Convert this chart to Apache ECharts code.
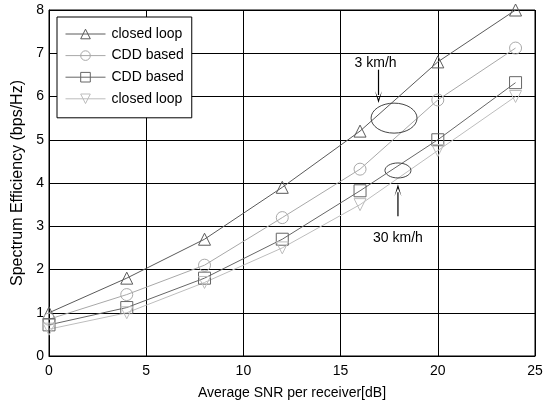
<!DOCTYPE html>
<html><head><meta charset="utf-8">
<script src="https://cdn.jsdelivr.net/npm/echarts@6/dist/echarts.min.js"></script>
<style>html,body{margin:0;padding:0;background:#fff}#c{width:553px;height:405px}</style>
</head><body><div id="c"></div>
<script>
const snr = [0, 4, 8, 12, 16, 20, 24];
const closedLoop3 = [1.0, 1.8, 2.7, 3.9, 5.2, 6.8, 8.0];
const cdd3 = [0.85, 1.42, 2.1, 3.2, 4.32, 5.92, 7.12];
const cdd30 = [0.72, 1.12, 1.8, 2.7, 3.82, 5.0, 6.32];
const closedLoop30 = [0.62, 1.0, 1.7, 2.5, 3.5, 4.75, 6.0];
const xTicks = [0, 5, 10, 15, 20, 25];
const yTicks = [0, 1, 2, 3, 4, 5, 6, 7, 8];

const font = 'Liberation Sans, Arial, sans-serif';
function pairs(ys){ return snr.map((x,i)=>[x, ys[i]]); }
function ser(name, ys, color, symbol, rot){
  return {
    name, type:'line', data: pairs(ys), symbol, symbolSize: 12, symbolRotate: rot||0,
    lineStyle:{color, width:1}, itemStyle:{color:'transparent', borderColor:color, borderWidth:1},
    emphasis:{disabled:true}, z: 3
  };
}
const chart = echarts.init(document.getElementById('c'), null, {renderer:'canvas'});
const option = {
  animation:false,
  grid:{left:49, right:18, top:10, bottom:48, show:true, borderColor:'#000', borderWidth:1},
  xAxis:{type:'value', min:0, max:25, interval:5,
    axisLine:{show:true, onZero:false, lineStyle:{color:'#000'}},
    axisTick:{show:true, inside:true, length:3, lineStyle:{color:'#000'}},
    axisLabel:{color:'#000', fontSize:14, fontFamily:font, margin:8,
      formatter:(v)=> xTicks.includes(v) ? String(v) : ''},
    splitLine:{show:true, lineStyle:{color:'#000', width:1}},
    name:'Average SNR per receiver[dB]', nameLocation:'middle', nameGap:30,
    nameTextStyle:{color:'#000', fontSize:14, fontFamily:font}
  },
  yAxis:{type:'value', min:0, max:8, interval:1,
    axisLine:{show:true, onZero:false, lineStyle:{color:'#000'}},
    axisTick:{show:true, inside:true, length:3, lineStyle:{color:'#000'}},
    axisLabel:{color:'#000', fontSize:14, fontFamily:font, margin:5,
      formatter:(v)=> yTicks.includes(v) ? String(v) : ''},
    splitLine:{show:true, lineStyle:{color:'#000', width:1}},
    name:'Spectrum Efficiency (bps/Hz)', nameLocation:'middle', nameGap:17.5,
    nameTextStyle:{color:'#000', fontSize:16, fontFamily:font}
  },
  legend:{orient:'vertical', left:57, top:17,
    backgroundColor:'#fff', borderColor:'#000', borderWidth:1,
    padding:[10,4,12,8], itemGap:7.6, itemWidth:40, itemHeight:12,
    lineStyle:{width:1}, itemStyle:{borderWidth:1},
    textStyle:{color:'#000', fontSize:14, fontFamily:font, padding:[0,0,0,1]},
    data:['closed loop','CDD based','CDD based ','closed loop ']
  },
  series:[
    ser('closed loop', closedLoop3, '#5a5a5a', 'triangle'),
    ser('CDD based', cdd3, '#a8a8a8', 'circle'),
    ser('CDD based ', cdd30, '#666666', 'rect'),
    ser('closed loop ', closedLoop30, '#bdbdbd', 'triangle', 180)
  ]
};
chart.setOption(option);

function px(x,y){ return chart.convertToPixel({gridIndex:0}, [x,y]); }
const e1 = px(17.75, 5.5), e2 = px(17.95, 4.29);
const t1 = px(16.8, 6.78), a1s = px(16.95, 6.62), a1e = px(16.95, 5.85);
const t2 = px(17.95, 2.72), a2s = px(17.95, 3.23), a2e = px(17.95, 3.97);
function arrow(s, e){
  const dy = e[1] > s[1] ? 1 : -1;
  return [
    {type:'line', shape:{x1:s[0], y1:s[1], x2:e[0], y2:e[1]-dy*8}, style:{stroke:'#000', lineWidth:1.2}, z:10},
    {type:'polygon', shape:{points:[[e[0]-3.5, e[1]-dy*12],[e[0], e[1]-dy*4],[e[0]+3.5, e[1]-dy*12],[e[0], e[1]]]}, style:{fill:'#000'}, z:10}
  ];
}
chart.setOption({graphic:[
  {type:'ellipse', shape:{cx:e1[0], cy:e1[1], rx:23, ry:15}, style:{fill:'none', stroke:'#444', lineWidth:1}, z:10},
  {type:'ellipse', shape:{cx:e2[0], cy:e2[1], rx:13, ry:7.5}, style:{fill:'none', stroke:'#444', lineWidth:1}, z:10},
  {type:'text', x:t1[0], y:t1[1], style:{text:'3 km/h', fill:'#000', font:'14px '+font, align:'center', verticalAlign:'middle'}, z:10},
  {type:'text', x:t2[0], y:t2[1], style:{text:'30 km/h', fill:'#000', font:'14px '+font, align:'center', verticalAlign:'middle'}, z:10},
  ...arrow(a1s, a1e), ...arrow(a2s, a2e)
]});
</script></body></html>
